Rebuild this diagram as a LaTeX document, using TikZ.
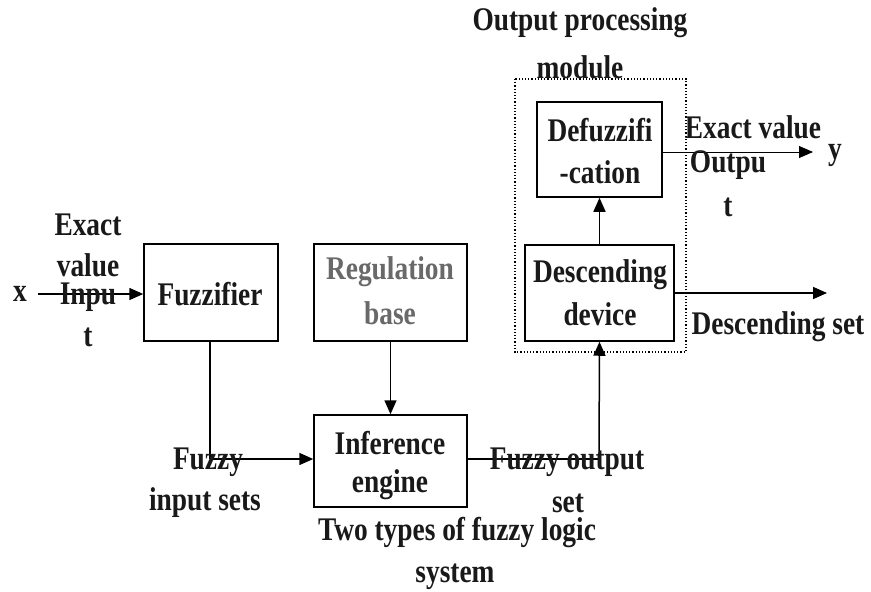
\documentclass[tikz,border=0pt]{standalone}
\usepackage{fontspec}
\setmainfont{Liberation Serif}[FakeStretch=0.83]
\usetikzlibrary{arrows.meta}
\definecolor{txt}{RGB}{25,25,25}
\definecolor{reg}{RGB}{105,105,105}
\begin{document}
\begin{tikzpicture}[x=1pt,y=-1pt,
  every node/.style={font=\fontsize{33}{41}\selectfont\bfseries, text=txt, inner sep=0pt, align=center},
  conn/.style={draw=black, line width=1.5pt},
  arr/.style={conn, -{Triangle[length=14pt,width=12pt]}},
  thin arr/.style={draw=black, line width=0.8pt, -{Triangle[length=14pt,width=12pt]}}]
\useasboundingbox (0,0) rectangle (871,592);
\fill[white] (0,0) rectangle (871,592);
% dotted module frame
\draw[dotted, line width=1.2pt] (515,79) rectangle (686,352);
% boxes
\node[draw, line width=1.5pt, minimum width=134pt, minimum height=97pt] (fuzz) at (211,292.5) {};
\node[draw, line width=1.5pt, minimum width=153pt, minimum height=97pt] (rule) at (390.5,292.5) {};
\node[draw, line width=1.5pt, minimum width=153pt, minimum height=92pt] (inf) at (390.5,461) {};
\node[draw, line width=1.5pt, minimum width=149pt, minimum height=96pt] (desc) at (599.5,293) {};
\node[draw, line width=1.5pt, minimum width=125pt, minimum height=95pt] (defz) at (599.5,149.5) {};
% box texts
\node at (210,294) {Fuzzifier};
\node[text=reg] at (390,272) {Regulation};
\node[text=reg] at (390,313) {base};
\node at (390,443) {Inference};
\node at (390,485) {engine};
\node at (600,275) {Descending};
\node at (600,314) {device};
\node at (600,130) {Defuzzifi};
\node at (600,172) {-cation};
% coordinates
\coordinate (xin) at (38,294);
\coordinate (fz) at (210,459);
\coordinate (fo) at (599,459);
\coordinate (yout) at (813,152);
\coordinate (dout) at (827,293);
% connectors
\draw[arr] (xin) -- (fuzz.west |- xin);
\draw[conn] (fuzz.south -| fz) -- (fz);
\draw[arr] (fz) -- (inf.west |- fz);
\draw[arr] (rule.south) -- (inf.north);
\draw[conn] (inf.east |- fo) -- (fo);
\draw[arr] (fo) -- (desc.south);
\draw[arr] (desc.north) -- (defz.south);
\draw[thin arr] (defz.east |- yout) -- (yout);
\draw[arr] (desc.east |- dout) -- (dout);
% labels
\node at (20,294) {x};
\node at (88,225) {Exact};
\node at (88,265) {value};
\node at (88,297) {Inpu};
\node at (88,337) {t};
\node at (208,462) {Fuzzy};
\node at (205,503) {input sets};
\node at (567,462) {Fuzzy output};
\node at (568,503) {set};
\node at (457,533) {Two types of fuzzy logic};
\node at (455,577) {system};
\node at (580,23) {Output processing};
\node at (580,67) {module};
\node at (753,127) {Exact value};
\node at (728,165) {Outpu};
\node at (728,207) {t};
\node at (835,155) {y};
\node at (778,327) {Descending set};
\end{tikzpicture}
\end{document}
